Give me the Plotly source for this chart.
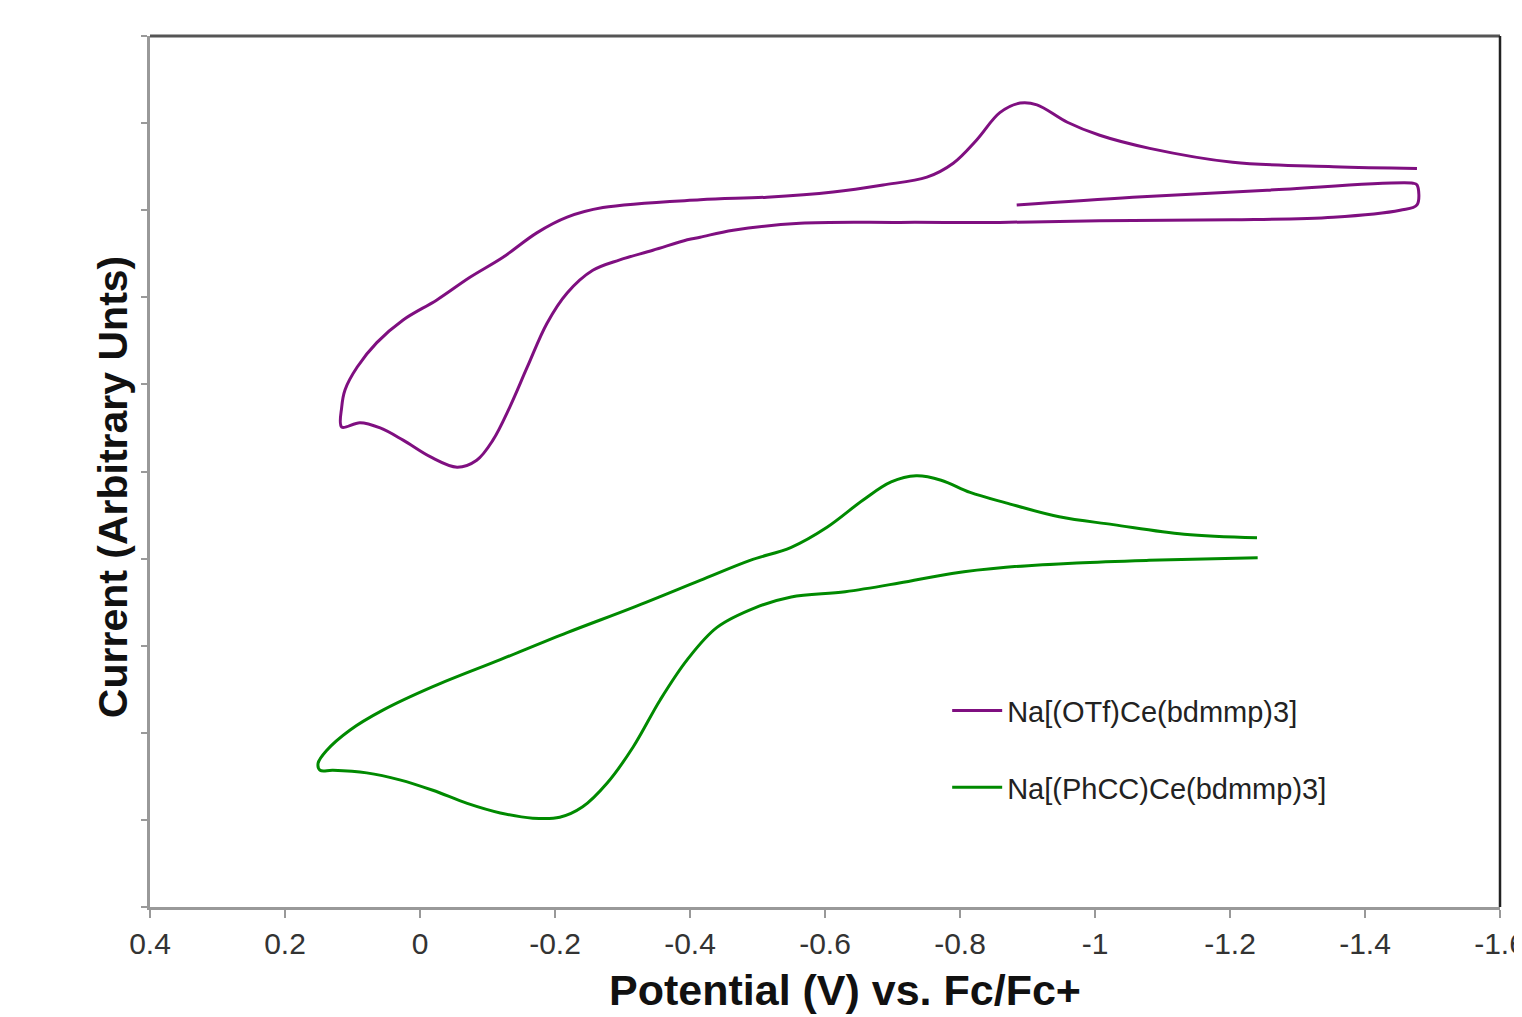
import plotly.graph_objects as go

# ---- data ----
otf_name = "Na[(OTf)Ce(bdmmp)3]"
otf_potential = [-0.884, -1.056, -1.255, -1.471, -1.477, -1.477, -1.452, -1.353, -1.204, -1.007,
                 -0.859, -0.711, -0.563, -0.464, -0.415, -0.396, -0.345, -0.296, -0.256, -0.218,
                 -0.188, -0.159, -0.133, -0.108, -0.084, -0.055, -0.015, 0.025, 0.059, 0.089,
                 0.116, 0.116, 0.111, 0.093, 0.064, 0.025, -0.025, -0.074, -0.123, -0.173,
                 -0.218, -0.271, -0.415, -0.514, -0.612, -0.686, -0.751, -0.790, -0.825, -0.859,
                 -0.889, -0.914, -0.959, -1.007, -1.081, -1.204, -1.353, -1.477]
otf_current = [8.06, 8.15, 8.23, 8.31, 8.29, 8.06, 8.00, 7.92, 7.89, 7.88,
               7.86, 7.86, 7.85, 7.77, 7.69, 7.66, 7.54, 7.43, 7.31, 7.05,
               6.70, 6.20, 5.74, 5.36, 5.13, 5.05, 5.17, 5.36, 5.50, 5.56,
               5.51, 5.74, 5.94, 6.20, 6.48, 6.74, 6.97, 7.23, 7.46, 7.74,
               7.92, 8.03, 8.12, 8.15, 8.21, 8.29, 8.38, 8.54, 8.81, 9.12,
               9.23, 9.21, 9.01, 8.86, 8.71, 8.55, 8.50, 8.48]

phcc_name = "Na[(PhCC)Ce(bdmmp)3]"
phcc_potential = [-1.241, -1.080, -0.973, -0.868, -0.788, -0.710, -0.630, -0.550, -0.498, -0.440,
                  -0.396, -0.356, -0.316, -0.277, -0.241, -0.207, -0.167, -0.119, -0.070, -0.019,
                  0.030, 0.079, 0.129, 0.148, 0.151, 0.138, 0.104, 0.055, -0.019, -0.119,
                  -0.218, -0.316, -0.415, -0.489, -0.550, -0.603, -0.656, -0.698, -0.735, -0.772,
                  -0.815, -0.868, -0.947, -1.027, -1.132, -1.240]
phcc_current = [4.01, 3.98, 3.95, 3.90, 3.83, 3.72, 3.62, 3.56, 3.44, 3.21,
                2.84, 2.38, 1.84, 1.42, 1.15, 1.03, 1.02, 1.08, 1.19, 1.34,
                1.46, 1.54, 1.57, 1.57, 1.65, 1.80, 2.03, 2.26, 2.53, 2.84,
                3.15, 3.44, 3.75, 3.98, 4.13, 4.36, 4.67, 4.88, 4.95, 4.90,
                4.76, 4.64, 4.48, 4.39, 4.28, 4.24]

x_tick_values = [0.4, 0.2, 0, -0.2, -0.4, -0.6, -0.8, -1, -1.2, -1.4, -1.6]
x_tick_labels = ["0.4", "0.2", "0", "-0.2", "-0.4", "-0.6", "-0.8", "-1", "-1.2", "-1.4", "-1.6"]
y_tick_values = [0, 1, 2, 3, 4, 5, 6, 7, 8, 9, 10]

x_title = "Potential (V) vs. Fc/Fc+"
y_title = "Current (Arbitrary Unts)"

FONT = "Liberation Sans, Arial, sans-serif"

fig = go.Figure()
fig.add_trace(go.Scatter(
    x=otf_potential, y=otf_current, mode="lines", name=otf_name, legendgroup="a",
    line=dict(color="#7f0f80", width=3, shape="spline", smoothing=1.0),
))
fig.add_trace(go.Scatter(
    x=phcc_potential, y=phcc_current, mode="lines", name=phcc_name, legendgroup="b",
    line=dict(color="#008a00", width=3, shape="spline", smoothing=1.0),
))

# the page body adds an 8px offset; the figure is sized and margined to compensate
fig.update_layout(
    width=1514, height=1009,
    margin=dict(l=142, r=22, t=28, b=110, autoexpand=False),
    paper_bgcolor="white", plot_bgcolor="white",
    font=dict(family=FONT, color="#333333"),
    showlegend=True,
    legend=dict(x=0.5905, y=0.2546, xanchor="left", yanchor="top",
                font=dict(family=FONT, size=29, color="#222222"),
                bgcolor="rgba(0,0,0,0)", itemwidth=50, tracegroupgap=36,
                traceorder="grouped"),
    xaxis=dict(range=[0.4, -1.6], tickmode="array", tickvals=x_tick_values, ticktext=x_tick_labels,
               showgrid=False, zeroline=False, showline=True, linecolor="#999999", linewidth=2.5,
               ticks="outside", ticklen=8, tickwidth=2, tickcolor="#999999",
               ticklabeloverflow="allow", automargin=False,
               tickfont=dict(family=FONT, size=30, color="#333333")),
    yaxis=dict(range=[0, 10], tickmode="array", tickvals=y_tick_values, showticklabels=False,
               showgrid=False, zeroline=False, showline=True, linecolor="#999999", linewidth=2.5,
               ticks="outside", ticklen=6, tickwidth=2, tickcolor="#999999", automargin=False),
    shapes=[
        dict(type="line", xref="paper", yref="paper", x0=0, x1=1, y0=1, y1=1,
             line=dict(color="#555555", width=3)),
        dict(type="line", xref="paper", yref="paper", x0=1, x1=1, y0=0, y1=1,
             line=dict(color="#222222", width=2.5)),
    ],
    annotations=[
        dict(text="<b>" + x_title + "</b>", xref="paper", yref="paper", x=0.515, y=-0.095,
             xanchor="center", yanchor="middle", showarrow=False,
             font=dict(family=FONT, size=43, color="#111111")),
        dict(text="<b>" + y_title + "</b>", xref="paper", yref="paper", x=-0.0274, y=0.482,
             xanchor="center", yanchor="middle", showarrow=False, textangle=-90,
             font=dict(family=FONT, size=41, color="#111111")),
    ],
)

fig.write_html("out.html")
